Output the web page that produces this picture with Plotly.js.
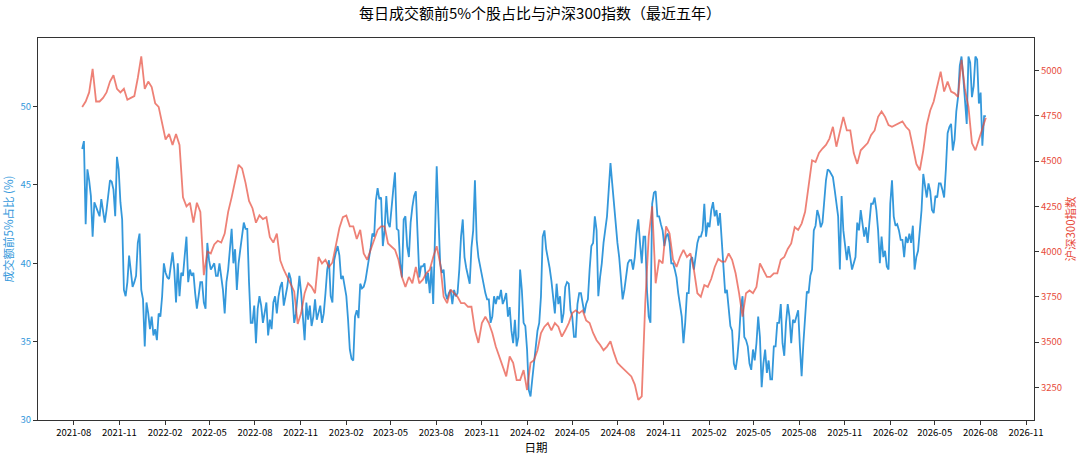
<!DOCTYPE html>
<html>
<head>
<meta charset="utf-8">
<script src="https://cdn.plot.ly/plotly-3.0.1.min.js"></script>
<style>
  html, body { margin: 0; padding: 0; background: #ffffff; }
  #chart { width: 1080px; height: 456px; }
</style>
</head>
<body>
<div id="chart"></div>
<script>
  "use strict";

  // both series start on START_DATE; share is read twice a week, index weekly
  var START_DATE = "2021-08-18";
  var SHARE_STEP_DAYS = 3.5;
  var HS300_STEP_DAYS = 7;

  // 成交额前5%个股占比 (%)
  var TOP5_SHARE = [
    47.3, 47.8, 42.5, 46.0, 45.3, 44.3, 41.7, 43.9, 43.6, 43.3, 43.0, 44.1, 43.4, 42.6, 43.4, 44.5, 45.3, 45.2, 44.7, 43.0,
    46.8, 46.0, 43.9, 42.8, 38.3, 37.9, 38.8, 40.5, 39.6, 38.5, 38.8, 39.2, 41.3, 41.9, 38.3, 37.7, 34.7, 37.5, 36.8, 35.8,
    36.6, 35.4, 35.8, 35.1, 36.8, 36.6, 37.9, 40.0, 39.4, 39.1, 39.0, 40.0, 40.7, 39.6, 37.5, 40.0, 37.9, 39.4, 39.2, 40.5,
    41.7, 38.8, 39.6, 39.2, 39.4, 38.1, 37.1, 37.9, 38.8, 38.8, 37.5, 37.1, 41.3, 40.2, 39.6, 39.8, 40.0, 39.2, 39.2, 40.0,
    39.2, 38.3, 36.8, 38.8, 39.6, 40.9, 42.2, 40.0, 40.9, 38.3, 40.0, 40.9, 41.7, 42.6, 42.2, 42.2, 38.8, 36.2, 36.2, 37.3,
    34.9, 37.1, 37.9, 37.3, 36.2, 36.8, 37.5, 35.4, 36.4, 35.8, 37.5, 37.9, 36.8, 37.9, 38.5, 38.8, 37.3, 37.9, 38.5, 39.4,
    39.0, 37.9, 36.2, 36.8, 38.3, 39.2, 38.1, 36.8, 35.1, 37.5, 36.4, 37.3, 36.0, 36.6, 37.7, 36.4, 36.8, 37.3, 36.2, 36.8,
    38.1, 39.6, 40.2, 37.9, 37.5, 40.2, 40.7, 41.1, 40.5, 39.0, 39.2, 38.5, 37.9, 36.4, 34.5, 33.9, 33.8, 36.6, 37.0, 36.5,
    38.7, 38.4, 38.5, 38.9, 39.6, 40.0, 41.0, 41.9, 41.7, 44.0, 44.8, 44.1, 44.2, 41.1, 42.1, 44.3, 42.6, 42.3, 43.8, 44.7,
    45.8, 42.2, 42.1, 40.0, 39.1, 42.8, 43.0, 41.1, 40.4, 42.6, 43.6, 44.3, 44.6, 41.3, 39.1, 39.8, 39.8, 40.0, 38.7, 39.4,
    38.1, 39.8, 37.4, 41.7, 46.2, 43.0, 40.0, 39.4, 39.6, 38.1, 37.7, 38.1, 38.3, 37.4, 38.3, 37.9, 38.1, 39.6, 41.7, 42.8,
    40.4, 39.7, 39.1, 38.7, 41.0, 42.1, 45.3, 41.5, 40.4, 39.8, 39.1, 38.6, 38.1, 37.7, 37.7, 36.2, 36.6, 37.9, 37.4, 37.9,
    37.7, 38.3, 37.4, 37.7, 38.1, 36.6, 37.2, 35.7, 34.9, 36.4, 34.7, 35.3, 39.6, 38.3, 36.2, 36.0, 34.5, 31.9, 31.5, 32.6,
    33.8, 34.9, 35.7, 36.2, 37.9, 41.7, 42.1, 40.9, 40.4, 39.7, 38.9, 37.9, 36.8, 38.7, 37.4, 37.9, 36.2, 36.8, 38.5, 38.8,
    38.7, 37.0, 36.6, 35.3, 35.3, 37.4, 38.1, 38.1, 37.4, 36.8, 37.4, 37.7, 39.6, 41.1, 41.3, 43.0, 42.1, 37.9, 39.1, 40.0,
    41.3, 42.3, 43.0, 44.7, 46.4, 45.1, 43.8, 42.1, 41.3, 40.4, 38.9, 37.7, 38.3, 39.1, 40.0, 40.2, 40.2, 39.6, 40.4, 41.9,
    42.8, 41.3, 40.0, 41.7, 41.7, 38.3, 36.6, 36.2, 43.8, 44.5, 44.6, 43.0, 43.0, 42.5, 42.1, 41.1, 41.7, 41.9, 41.3, 40.0,
    40.0, 39.6, 39.1, 38.1, 37.2, 36.6, 34.9, 36.2, 38.1, 38.1, 40.2, 40.4, 39.6, 40.4, 41.3, 41.7, 41.7, 42.1, 43.8, 41.7,
    42.6, 42.3, 43.4, 43.9, 43.0, 43.4, 42.4, 43.2, 41.3, 39.6, 38.1, 38.3, 37.2, 36.0, 35.7, 33.6, 33.2, 34.0, 35.3, 37.2,
    37.9, 35.3, 35.1, 34.7, 33.6, 33.2, 34.5, 33.8, 34.9, 36.6, 35.3, 32.1, 33.6, 34.5, 33.0, 33.8, 32.6, 32.6, 34.7, 34.7,
    36.2, 36.2, 37.4, 34.9, 34.1, 36.2, 37.4, 36.6, 34.9, 36.4, 36.2, 36.6, 37.0, 34.7, 32.8, 34.9, 37.0, 38.2, 38.1, 39.2,
    39.6, 42.1, 42.4, 43.4, 43.0, 42.3, 42.6, 44.0, 45.3, 46.0, 45.9, 45.7, 45.5, 44.7, 43.8, 43.0, 39.6, 44.3, 42.1, 41.1,
    40.2, 41.1, 40.4, 39.6, 40.0, 40.4, 42.6, 42.1, 43.4, 42.6, 41.7, 42.3, 41.3, 42.6, 43.8, 43.8, 44.2, 43.4, 42.1, 40.0,
    41.7, 40.4, 40.8, 39.8, 39.6, 43.8, 45.3, 43.0, 42.4, 42.5, 42.1, 41.5, 41.5, 40.4, 41.7, 41.3, 41.9, 41.3, 42.4, 39.6,
    40.4, 40.8, 41.9, 43.4, 45.7, 44.9, 44.2, 45.1, 44.6, 43.4, 43.2, 44.3, 44.2, 45.1, 45.1, 44.7, 44.2, 46.0, 48.3, 48.7,
    48.9, 47.2, 47.9, 49.7, 50.6, 52.6, 53.2, 51.9, 50.6, 48.9, 53.2, 52.8, 50.6, 51.3, 53.2, 53.0, 50.2, 50.9, 47.5, 49.4,
    49.4
  ];

  // 沪深300指数 close
  var HS300 = [
    4800, 4830, 4880, 5010, 4830, 4830, 4850, 4880, 4940, 4975,
    4900, 4880, 4900, 4840, 4850, 4860, 4960, 5080, 4900, 4940,
    4910, 4820, 4800, 4700, 4620, 4650, 4590, 4650, 4590, 4300,
    4250, 4270, 4160, 4270, 4220, 3870, 4000, 3990, 4040, 4060,
    4050, 4100, 4220, 4300, 4400, 4480, 4460, 4380, 4280, 4240,
    4160, 4200, 4180, 4190, 4080, 4050, 4100, 3950, 3900, 3860,
    3820, 3780, 3600, 3660, 3770, 3825, 3805, 3770, 3970, 3935,
    3955, 3915, 3940, 4045, 4130, 4190, 4200, 4140, 4140, 4070,
    4120, 3990, 3955, 4010, 4065, 4120, 4140, 4140, 4045, 4030,
    4010, 3955, 3860, 3805, 3860, 3825, 3915, 3825, 3845, 3880,
    3900, 3970, 4030, 3935, 3750, 3715, 3790, 3770, 3750, 3715,
    3715, 3695, 3695, 3565, 3495, 3605, 3640, 3605, 3550, 3475,
    3420, 3365, 3310, 3420, 3385, 3290, 3290, 3345, 3235, 3385,
    3400, 3455, 3550, 3585, 3605, 3565, 3605, 3585, 3530, 3565,
    3605, 3660, 3675, 3660, 3675, 3620, 3605, 3550, 3510, 3485,
    3455, 3475, 3505, 3440, 3385, 3365, 3345, 3330, 3310, 3265,
    3180, 3200, 3715, 4085, 4250, 3825, 3955, 3935, 4140, 4100,
    3955, 3915, 3970, 4010, 3970, 3990, 3900, 3770, 3750, 3815,
    3805, 3850, 3915, 3960, 3945, 3945, 3990, 3955, 3880, 3770,
    3640, 3770, 3785, 3770, 3805, 3935, 3895, 3860, 3860, 3880,
    3880, 3955, 3970, 4015, 4045, 4135, 4120, 4155, 4220, 4375,
    4505, 4495, 4545, 4570, 4590, 4625, 4690, 4580, 4670, 4745,
    4670, 4670, 4545, 4485, 4560, 4580, 4600, 4645, 4670, 4745,
    4775, 4745, 4700, 4690, 4700, 4710, 4720, 4690, 4670, 4580,
    4485, 4450, 4560, 4700, 4780, 4830, 4920, 4995, 4885, 4940,
    4885, 4875, 4855, 5060, 4895, 4800, 4600, 4560, 4620, 4680,
    4740
  ];

  var BLUE = "#3498db";
  var RED = "#e74c3c";
  var FONT = '"Noto Sans CJK SC", "Noto Sans", sans-serif';

  function buildDates(count, stepDays) {
    var t0 = Date.parse(START_DATE + "T00:00:00Z");
    var out = [];
    for (var i = 0; i < count; i++) {
      out.push(new Date(t0 + i * stepDays * 86400000).toISOString().slice(0, 16).replace("T", " "));
    }
    return out;
  }

  function buildTraces() {
    return [
      {
        type: "scatter",
        mode: "lines",
        name: "成交额前5%占比",
        x: buildDates(TOP5_SHARE.length, SHARE_STEP_DAYS),
        y: TOP5_SHARE,
        line: { color: BLUE, width: 1.8 },
        yaxis: "y",
        hoverinfo: "skip"
      },
      {
        type: "scatter",
        mode: "lines",
        name: "沪深300指数",
        x: buildDates(HS300.length, HS300_STEP_DAYS),
        y: HS300,
        line: { color: RED, width: 1.8 },
        opacity: 0.7,
        yaxis: "y2",
        hoverinfo: "skip"
      }
    ];
  }

  function buildLayout() {
    var axisLine = { showline: true, linecolor: "#333333", linewidth: 1 };
    return {
      width: 1080,
      height: 456,
      paper_bgcolor: "#ffffff",
      plot_bgcolor: "#ffffff",
      showlegend: false,
      font: { family: FONT, size: 10, color: "#000000" },
      margin: { l: 38, r: 46, t: 38, b: 36 },
      title: {
        text: "每日成交额前5%个股占比与沪深300指数（最近五年）",
        font: { family: FONT, size: 15, color: "#000000" },
        x: 0.5,
        xanchor: "center",
        y: 0.97,
        yanchor: "middle",
        yref: "container"
      },
      xaxis: Object.assign({}, axisLine, {
        type: "date",
        range: ["2021-05-21", "2026-11-17"],
        tick0: "2021-08-01",
        dtick: "M3",
        tickformat: "%Y-%m",
        ticks: "outside",
        ticklen: 4,
        tickcolor: "#333333",
        tickfont: { size: 9.5, color: "#000000" },
        showgrid: false,
        zeroline: false,
        mirror: true,
        title: { text: "日期", font: { size: 11.5, color: "#000000" }, standoff: 2 }
      }),
      yaxis: Object.assign({}, axisLine, {
        range: [30, 54.38],
        tick0: 30,
        dtick: 5,
        ticks: "outside",
        ticklen: 4,
        tickcolor: "#333333",
        tickfont: { size: 9.5, color: BLUE },
        showgrid: false,
        zeroline: false,
        title: { text: "成交额前5%占比 (%)", font: { size: 11.5, color: BLUE }, standoff: 4 }
      }),
      yaxis2: Object.assign({}, axisLine, {
        overlaying: "y",
        side: "right",
        range: [3069, 5181],
        tick0: 3250,
        dtick: 250,
        ticks: "outside",
        ticklen: 4,
        tickcolor: "#333333",
        tickfont: { size: 9.5, color: RED },
        showgrid: false,
        zeroline: false,
        title: { text: "沪深300指数", font: { size: 11.5, color: RED }, standoff: 4 }
      })
    };
  }

  Plotly.newPlot("chart", buildTraces(), buildLayout(), {
    displayModeBar: false,
    staticPlot: true
  });
</script>
</body>
</html>
